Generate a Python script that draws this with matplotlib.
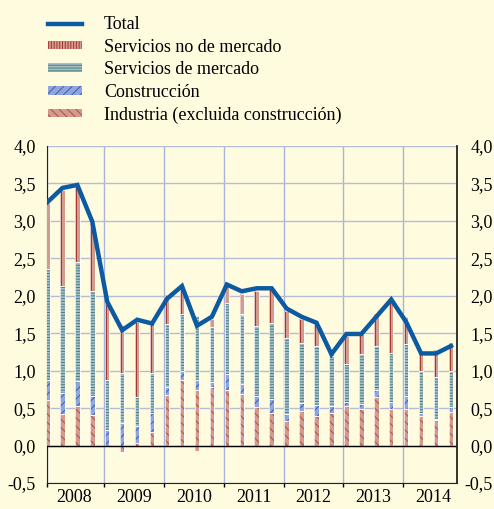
import numpy as np
import matplotlib
matplotlib.use('Agg')
import matplotlib.pyplot as plt
from matplotlib.patches import Patch
from matplotlib.lines import Line2D

# quarterly contributions, 2008Q1 .. 2014Q4
industria = [0.61, 0.42, 0.53, 0.41, -0.02, -0.09, 0.04, 0.18,
             0.68, 0.87, 0.74, 0.78, 0.74, 0.69, 0.52, 0.43,
             0.33, 0.46, 0.40, 0.44, 0.53, 0.49, 0.65, 0.49,
             0.49, 0.39, 0.34, 0.45]
construccion = [0.26, 0.28, 0.33, 0.25, 0.21, 0.30, 0.22, 0.26,
                0.10, 0.12, 0.14, 0.07, 0.22, 0.13, 0.14, 0.19,
                0.09, 0.11, 0.14, 0.09, 0.05, 0.07, 0.09, 0.09,
                0.17, 0.05, 0.02, 0.06]
serv_mercado = [1.49, 1.43, 1.59, 1.40, 0.66, 0.67, 0.39, 0.53,
                0.84, 0.76, 0.85, 0.73, 0.95, 0.93, 0.94, 1.01,
                1.01, 0.80, 0.79, 0.67, 0.51, 0.66, 0.59, 0.65,
                0.69, 0.55, 0.55, 0.49]
serv_no_mercado = [0.88, 1.28, 1.00, 0.90, 1.02, 0.64, 1.00, 0.67,
                   0.39, 0.40, -0.07, 0.11, 0.22, 0.27, 0.47, 0.46,
                   0.37, 0.32, 0.32, 0.02, 0.37, 0.27, 0.42, 0.71,
                   0.37, 0.24, 0.36, 0.37]
total = [3.25, 3.44, 3.48, 2.99, 1.92, 1.54, 1.68, 1.63,
         1.96, 2.13, 1.60, 1.72, 2.15, 2.06, 2.10, 2.10,
         1.83, 1.72, 1.64, 1.22, 1.49, 1.49, 1.72, 1.95,
         1.65, 1.23, 1.23, 1.33]
years = ['2008', '2009', '2010', '2011', '2012', '2013', '2014']
yticks = [-0.5, 0.0, 0.5, 1.0, 1.5, 2.0, 2.5, 3.0, 3.5, 4.0]

BG = '#fffbdf'
SALMON = '#d49a8c'
plt.rcParams['font.family'] = ['Liberation Serif', 'DejaVu Serif']
plt.rcParams['hatch.linewidth'] = 0.7

fig = plt.figure(figsize=(4.94, 5.09), dpi=100, facecolor=BG)
ax = fig.add_axes([46.7/494, 1-483/509, (457.3-46.7)/494, (483-146)/509])
ax.set_facecolor(BG)

x = np.arange(len(total))
w = 0.3
pos_base = np.zeros(len(x))
neg_base = np.zeros(len(x))

series = [
    (industria, SALMON, '#a8504a', '\\\\\\\\'),
    (construccion, '#8fa5dc', '#3d5db3', '////'),
    (serv_mercado, '#a6c1c5', '#4a7c86', '------'),
    (serv_no_mercado, SALMON, SALMON, None),
]
for vals, fc, hc, hatch in series:
    v = np.array(vals)
    base = np.where(v >= 0, pos_base, neg_base)
    ax.bar(x, v, w, bottom=base, color=fc, edgecolor=hc, linewidth=0,
           hatch=hatch, zorder=3)
    if hatch is None:
        # dark red stripe of non-market services
        ax.bar(x - w/2 + 0.06, v, 0.12, bottom=base, color='#a23a32',
               linewidth=0, zorder=3)
    ax.bar(x, v, w, bottom=base, fill=False, edgecolor='white',
           linewidth=0.5, zorder=4)
    pos_base = pos_base + np.where(v >= 0, v, 0)
    neg_base = neg_base + np.where(v < 0, v, 0)

ax.plot(x, total, color='#0b5aa2', lw=3.2, zorder=6, solid_joinstyle='miter')
ax.axhline(0, color='black', lw=1, zorder=5)

ax.set_xlim(-0.05, 27.42)
ax.set_ylim(-0.5, 4.0)

bounds = [-0.05] + [4*k - 0.2 for k in range(1, 7)]
ax.set_xticks(bounds)
ax.set_xticklabels([])
ax.set_xticks([4*k + 1.8 for k in range(7)], minor=True)
ax.set_xticklabels(years, minor=True, fontsize=13)
ax.tick_params(axis='x', which='major', direction='out', length=3, width=1)
ax.tick_params(axis='x', which='minor', length=0, pad=4.5)
ax.grid(axis='x', which='major', color='#a8b4de', lw=1, zorder=1)

ax.set_yticks(yticks)
ax.set_yticklabels([('%.1f' % t).replace('.', ',') for t in yticks], fontsize=13)
ax.tick_params(axis='y', length=0, pad=8.0)
ax.grid(axis='y', color='#b4bcd6', lw=1, zorder=1)

for s in ['top', 'right']:
    ax.spines[s].set_visible(False)
ax.spines['left'].set_color('#222222')
ax.spines['bottom'].set_color('#222222')

ax2 = ax.twinx()
ax2.set_ylim(-0.5, 4.0)
ax2.set_yticks(yticks)
ax2.set_yticklabels([('%.1f' % t).replace('.', ',') for t in yticks], fontsize=13)
ax2.tick_params(axis='y', length=0, pad=25.7)
for lbl in ax2.get_yticklabels():
    lbl.set_horizontalalignment('right')
for s in ['top', 'left', 'bottom']:
    ax2.spines[s].set_visible(False)
ax2.spines['right'].set_color('#222222')
ax2.spines['right'].set_linewidth(1.3)

handles = [
    Line2D([], [], color='#0b5aa2', lw=3.2),
    Patch(facecolor=SALMON, edgecolor='#a23a32', lw=0, hatch='||||||'),
    Patch(facecolor='#a6c1c5', edgecolor='#4a7c86', lw=0, hatch='------'),
    Patch(facecolor='#8fa5dc', edgecolor='#3d5db3', lw=0, hatch='////'),
    Patch(facecolor=SALMON, edgecolor='#a8504a', lw=0, hatch='\\\\\\\\'),
]
labels = ['Total', 'Servicios no de mercado', 'Servicios de mercado',
          'Construcción', 'Industria (excluida construcción)']
fig.legend(handles, labels, loc='upper left', bbox_to_anchor=(48/494, 1-16/509),
           frameon=False, fontsize=13, handlelength=1.9, handleheight=0.35,
           handletextpad=1.2, labelspacing=0.31, borderpad=0, borderaxespad=0)

fig.savefig('out.png', dpi=100, facecolor=BG)
